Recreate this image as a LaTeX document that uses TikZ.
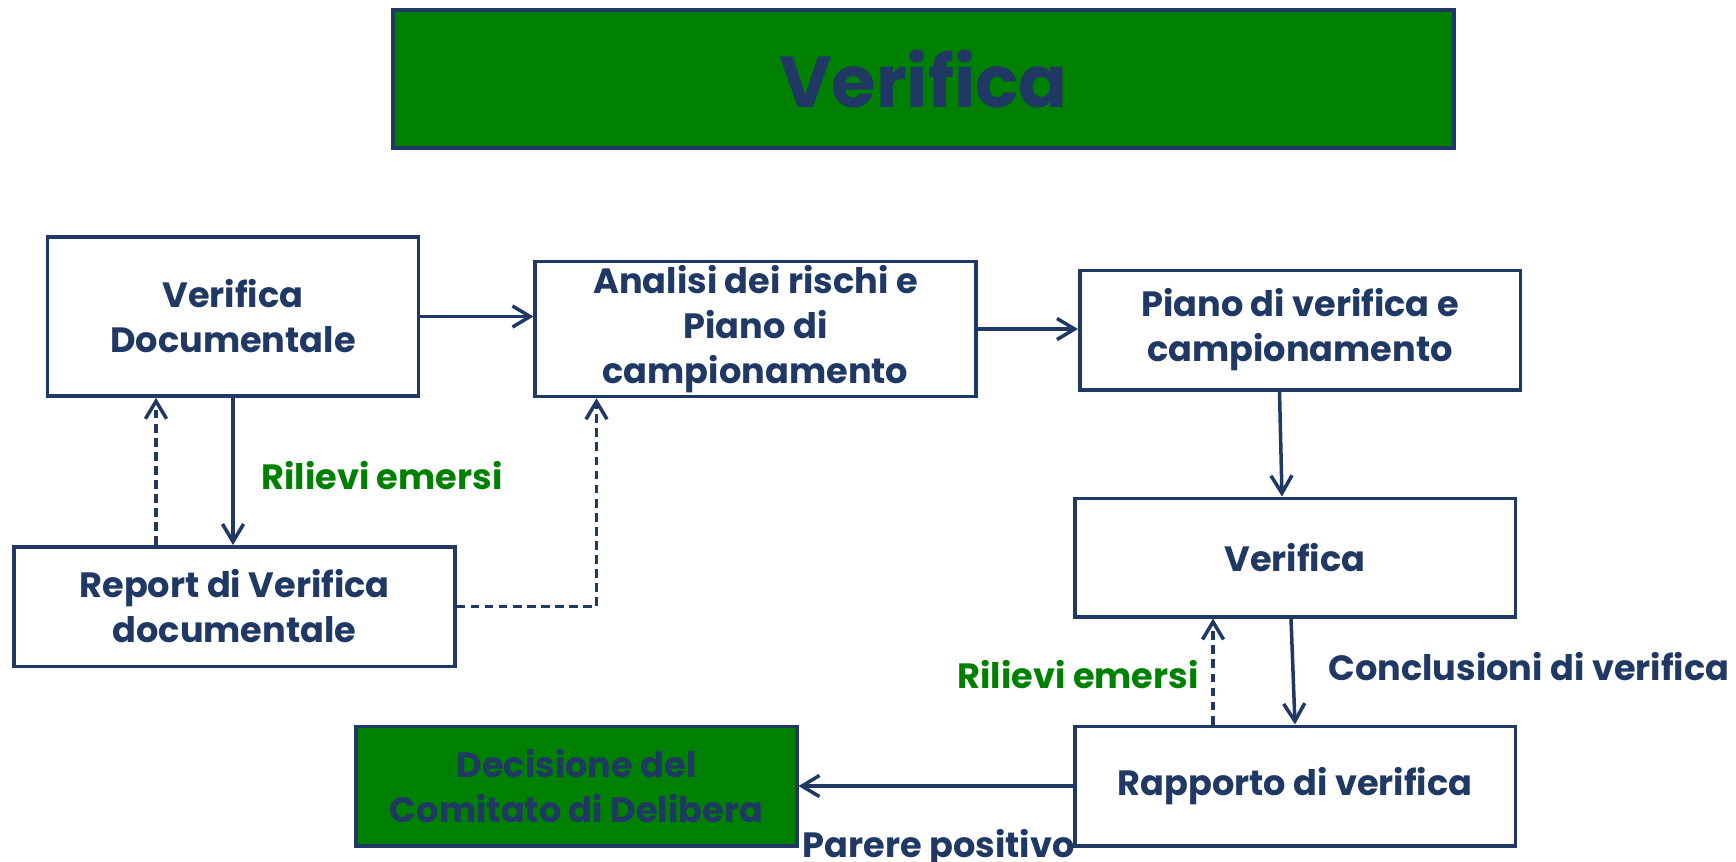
\documentclass[tikz,border=0pt]{standalone}
\usepackage{fontspec}
\setmainfont{Poppins}
\usepackage{xcolor}
\usetikzlibrary{arrows.meta}
\definecolor{darkblue}{RGB}{31,56,100}
\definecolor{darkgreen}{RGB}{0,128,0}

\begin{document}
\begin{tikzpicture}[
        procbox/.style={draw=darkblue, line width=2pt, fill=white, text=darkblue, align=center,
            minimum width=8.81cm, minimum height=2.39cm, inner sep=2pt,
            font=\fontsize{20}{25.6}\selectfont\bfseries},
        flow/.style={draw=darkblue, line width=2pt, -{Straight Barb[length=10pt,width=12pt]}},
        back/.style={flow, dash pattern=on 5pt off 3pt},
        greenlbl/.style={text=darkgreen, inner sep=0pt, font=\fontsize{20}{25.6}\selectfont\bfseries},
        bluelbl/.style={text=darkblue, inner sep=0pt, font=\fontsize{20}{25.6}\selectfont\bfseries}]

        \useasboundingbox (0,0) rectangle (34.72,-17.22);

        % Title
        \node[procbox, fill=darkgreen, minimum width=21.22cm, minimum height=2.76cm,
            font=\fontsize{41}{50}\selectfont\bfseries] (title) at (18.47,-1.58) {Verifica};

        % Document check
        \node[procbox, minimum width=7.42cm, minimum height=3.18cm] (doc) at (4.66,-6.33) {Verifica\\Documentale};

        % Risk analysis
        \node[procbox, minimum height=2.70cm] (analisi) at (15.11,-6.58) {Analisi dei rischi e\\Piano di\\campionamento};

        % Verification plan
        \node[procbox] (piano) at (26.00,-6.60) {Piano di verifica e\\campionamento};

        % Verification
        \node[procbox, minimum height=2.37cm] (verifica) at (25.90,-11.15) {Verifica};

        % Verification report
        \node[procbox] (rapporto) at (25.90,-15.72) {Rapporto di verifica};

        % Document check report
        \node[procbox] (report) at (4.69,-12.13) {Report di Verifica\\documentale};

        % Committee decision
        \node[procbox, fill=darkgreen] (decisione) at (11.53,-15.72) {Decisione del\\Comitato di Delibera};

        % Labels
        \node[greenlbl, anchor=west] (rilievi1) at (5.22,-9.52) {Rilievi emersi};
        \node[greenlbl, anchor=east] (rilievi2) at (23.98,-13.50) {Rilievi emersi};
        \node[bluelbl, anchor=west] (conclusioni) at (26.56,-13.33) {Conclusioni di verifica};
        \node[bluelbl, anchor=base] (parere) at (18.77,-17.14) {Parere positivo};

        % Main flow
        \draw[flow] (doc.east) -- (doc.east -| analisi.west);
        \draw[flow] (analisi.east) -- (analisi.east -| piano.west);
        \draw[flow] ([xshift=-0.41cm]piano.south) -- ([xshift=-0.26cm]verifica.north);
        \draw[flow] ([xshift=-0.08cm]verifica.south) -- (rapporto.north);
        \draw[flow] (doc.south) -- (doc.south |- report.north);
        \draw[flow] (rapporto.west) -- (decisione.east);

        % Feedback loops
        \draw[back] ([xshift=-1.57cm]report.north) -- ([xshift=-1.57cm]report.north |- doc.south);
        \draw[back] (report.east) -| ([xshift=-3.18cm]analisi.south);
        \draw[back] ([xshift=-1.64cm]rapporto.north) -- ([xshift=-1.64cm]rapporto.north |- verifica.south);
    \end{tikzpicture}
\end{document}
